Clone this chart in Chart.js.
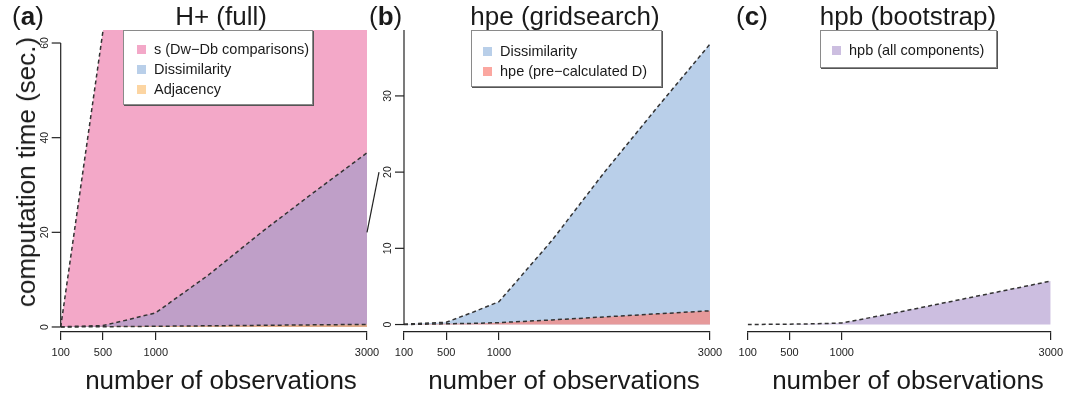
<!DOCTYPE html>
<html>
<head>
<meta charset="utf-8">
<script src="https://cdn.jsdelivr.net/npm/chart.js@4.4.1/dist/chart.umd.min.js"></script>
<style>
  html, body { margin: 0; padding: 0; background: #fff; }
  #wrap { position: relative; width: 1069px; height: 395px; overflow: hidden;
          font-family: 'Liberation Sans', Arial, Helvetica, sans-serif; color: #1a1a1a; }
  canvas { position: absolute; left: 0; top: 0; }
  .txt { position: absolute; white-space: nowrap; font-size: 26px; line-height: 30px; }
  .ctr { text-align: center; width: 340px; }
  .legend { position: absolute; background: #fff; border: 1px solid #8a8a8a;
            box-shadow: 1px 1px 0 #555; box-sizing: border-box; font-size: 14.5px; }
  .legend .row { display: flex; align-items: center; height: 20px; }
  .legend .sw { width: 9px; height: 9px; margin-right: 8px; flex: none; }
</style>
</head>
<body>
<div id="wrap">
  <canvas id="ca" width="1069" height="395"></canvas>
  <canvas id="cb" width="1069" height="395"></canvas>
  <canvas id="cc" width="1069" height="395"></canvas>

  <div class="txt" style="left:12px;top:1px;">(<b>a</b>)</div>
  <div class="txt" style="left:369px;top:1px;">(<b>b</b>)</div>
  <div class="txt" style="left:736px;top:1px;">(<b>c</b>)</div>

  <div class="txt ctr" id="ta" style="left:51px;top:1px;"></div>
  <div class="txt ctr" id="tb" style="left:395px;top:1px;"></div>
  <div class="txt ctr" id="tc" style="left:738px;top:1px;"></div>

  <div class="txt ctr" id="xa" style="left:51px;top:365px;"></div>
  <div class="txt ctr" id="xb" style="left:394px;top:365px;"></div>
  <div class="txt ctr" id="xc" style="left:738px;top:365px;"></div>

  <div class="txt" id="ya" style="left:26px;top:172px;transform:translate(-50%,-50%) rotate(-90deg);"></div>

  <div class="legend" id="la" style="left:123px;top:30px;width:190px;height:75px;padding:8px 0 0 13px;"></div>
  <div class="legend" id="lb" style="left:471px;top:30px;width:191px;height:57px;padding:10px 0 0 11px;"></div>
  <div class="legend" id="lc" style="left:820px;top:30px;width:177px;height:38px;padding:9px 0 0 11px;"></div>
</div>

<script>
// ---------------- data ----------------
const xObs = [100, 500, 750, 1000, 1500, 2000, 2500, 3000];
const xTicks = [100, 500, 1000, 3000];
const sComparisons = [0, 62.5, 144, 256, 576, 1024, 1600, 2304];
const dissimilarity = [0.05, 0.3, 1.6, 3.0, 11.0, 20.0, 28.5, 36.8];
const adjacency = [0, 0.05, 0.1, 0.15, 0.25, 0.35, 0.45, 0.55];
const hpePrecalc = [0, 0.1, 0.15, 0.25, 0.6, 1.0, 1.4, 1.8];
const hpbAll = [0, 0.05, 0.1, 0.2, 1.5, 2.9, 4.3, 5.7];
const yTicksA = [0, 20, 40, 60];
const yTicksB = [0, 10, 20, 30, 40];

const panelTitles = ['H+ (full)', 'hpe (gridsearch)', 'hpb (bootstrap)'];
const xTitle = 'number of observations';
const yTitle = 'computation time (sec.)';
const names = {
  s: 's (Dw\u2212Db comparisons)',
  dis: 'Dissimilarity',
  adj: 'Adjacency',
  hpe: 'hpe (pre\u2212calculated D)',
  hpb: 'hpb (all components)'
};
// legend swatch colours
const colors = {
  s: 'rgb(243,168,200)',
  dis: 'rgba(95,145,205,0.44)',
  adj: 'rgba(250,185,100,0.6)',
  hpe: 'rgba(250,130,120,0.7)',
  hpb: 'rgb(204,190,224)'
};
// fill colours per panel (Dissimilarity over the pink area reads purple in panel a)
const fillA = { s: colors.s, dis: 'rgba(140,150,200,0.5)', adj: colors.adj };
const fillB = { dis: colors.dis, hpe: colors.hpe };
const fillC = { hpb: colors.hpb };

// ---------------- helpers ----------------
const pts = ys => xObs.map((x, i) => ({ x: x, y: ys[i] }));
function ds(key, ys, order, fills) {
  return {
    label: names[key], data: pts(ys), order: order,
    backgroundColor: fills[key], borderColor: '#333',
    borderWidth: 1.5, borderDash: [4, 3], pointRadius: 0,
    tension: 0, fill: 'origin'
  };
}

const rYAxis = {
  id: 'rYAxis',
  afterDraw(chart, args, opts) {
    if (!opts || !opts.ticks) return;
    const ctx = chart.ctx, ca = chart.chartArea, y = chart.scales.y;
    const t = opts.ticks;
    const bottom = y.getPixelForValue(t[0]);
    const top = Math.max(ca.top, y.getPixelForValue(t[t.length - 1]));
    ctx.save();
    ctx.strokeStyle = '#222'; ctx.lineWidth = 1.2;
    ctx.beginPath(); ctx.moveTo(ca.left, top); ctx.lineTo(ca.left, bottom); ctx.stroke();
    ctx.fillStyle = '#222';
    ctx.font = "10.5px 'Liberation Sans', Arial, sans-serif";
    t.filter(v => v >= y.min && v <= y.max).forEach(v => {
      const py = y.getPixelForValue(v);
      ctx.beginPath(); ctx.moveTo(ca.left - 9, py); ctx.lineTo(ca.left, py); ctx.stroke();
      ctx.save();
      ctx.translate(ca.left - 16, py);
      ctx.rotate(-Math.PI / 2);
      ctx.textAlign = 'center'; ctx.textBaseline = 'middle';
      ctx.fillText(String(v), 0, 0);
      ctx.restore();
    });
    ctx.restore();
  }
};

function makeChart(id, datasets, padL, padR, yMin, yMax, yTicks, extraPlugins) {
  return new Chart(document.getElementById(id), {
    type: 'line',
    data: { datasets: datasets },
    plugins: [rYAxis].concat(extraPlugins || []),
    options: {
      responsive: false, animation: false, devicePixelRatio: 1,
      layout: { padding: { left: padL, right: padR, top: 30, bottom: 23 } },
      plugins: { legend: { display: false }, tooltip: { enabled: false },
                 rYAxis: { ticks: yTicks } },
      scales: {
        x: {
          type: 'linear', min: 100, max: 3000,
          afterBuildTicks: s => { s.ticks = xTicks.map(v => ({ value: v })); },
          afterFit: s => { s.height = 40; },
          grid: { drawOnChartArea: false, drawTicks: true, tickLength: 8, color: '#222', lineWidth: 1.2 },
          border: { display: true, color: '#222', width: 1.2 },
          ticks: { color: '#222', padding: 6, maxRotation: 0, autoSkip: false,
                   font: { size: 11, family: "'Liberation Sans', Arial, sans-serif" },
                   callback: v => String(v) }
        },
        y: { type: 'linear', display: false, min: yMin, max: yMax }
      }
    }
  });
}

// ---------------- charts ----------------
const chartA = makeChart('ca',
  [ds('s', sComparisons, 3, fillA), ds('dis', dissimilarity, 2, fillA), ds('adj', adjacency, 1, fillA)],
  60.7, 702, -1.06, 62.75, yTicksA);

const connector = {
  id: 'connector',
  afterDraw(chart) {
    const ctx = chart.ctx;
    const x0 = chartA.scales.x.getPixelForValue(3000), y0 = chartA.scales.y.getPixelForValue(20);
    const x1 = chart.chartArea.left - 25, y1 = chart.scales.y.getPixelForValue(20);
    ctx.save(); ctx.strokeStyle = '#222'; ctx.lineWidth = 1.2;
    ctx.beginPath(); ctx.moveTo(x0, y0); ctx.lineTo(x1, y1); ctx.stroke(); ctx.restore();
  }
};

const chartB = makeChart('cb',
  [ds('dis', dissimilarity, 2, fillB), ds('hpe', hpePrecalc, 1, fillB)],
  404, 359, -0.98, 38.65, yTicksB, [connector]);

const chartC = makeChart('cc',
  [ds('hpb', hpbAll, 1, fillC)],
  747.7, 16, -0.98, 38.65, null);

// ---------------- text & legends ----------------
['ta', 'tb', 'tc'].forEach((id, i) => { document.getElementById(id).textContent = panelTitles[i]; });
['xa', 'xb', 'xc'].forEach(id => { document.getElementById(id).textContent = xTitle; });
document.getElementById('ya').textContent = yTitle;

function legend(id, keys) {
  const box = document.getElementById(id);
  keys.forEach(k => {
    const row = document.createElement('div'); row.className = 'row';
    const sw = document.createElement('span'); sw.className = 'sw'; sw.style.background = colors[k];
    const tx = document.createElement('span'); tx.textContent = names[k];
    row.appendChild(sw); row.appendChild(tx); box.appendChild(row);
  });
}
legend('la', ['s', 'dis', 'adj']);
legend('lb', ['dis', 'hpe']);
legend('lc', ['hpb']);
</script>
</body>
</html>
